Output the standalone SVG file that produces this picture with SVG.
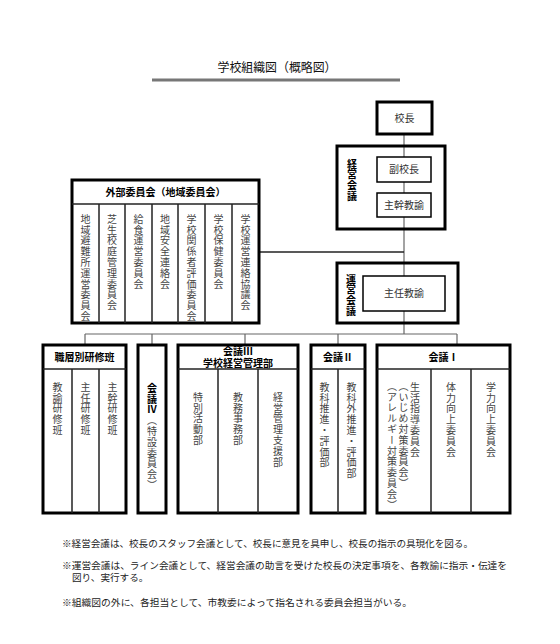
<svg xmlns="http://www.w3.org/2000/svg" width="560" height="644" viewBox="0 0 560 644">
<style>
text{font-family:"Noto Sans CJK JP","Noto Sans CJK SC",sans-serif}
.tight{font-family:"Liberation Sans","Noto Sans CJK JP",sans-serif}
.box{fill:#fff;stroke:#000;stroke-width:3}
.frame{fill:none;stroke:#000;stroke-width:3}
.inner{fill:#fff;stroke:#000;stroke-width:1.5}
.div{stroke:#222;stroke-width:1.5}
.conn{stroke:#666;stroke-width:1.2;fill:none}
.h{font-weight:bold;font-size:10px;fill:#000;text-anchor:middle}
.t{font-size:10px;fill:#333;text-anchor:middle}
.v{font-size:10px;fill:#444;writing-mode:vertical-rl;letter-spacing:0.8px}
.vb{font-size:10px;font-weight:bold;fill:#000;writing-mode:vertical-rl;letter-spacing:0.6px}
.note{font-size:9.6px;fill:#222}
</style>
<rect width="560" height="644" fill="#fff"/>
<g id="title">
<text x="277" y="72" font-size="12.5" fill="#111" text-anchor="middle" textLength="119" lengthAdjust="spacingAndGlyphs">学校組織図（概略図）</text>
<line x1="152" y1="80" x2="400" y2="80" stroke="#777" stroke-width="3"/>
</g>
<g id="connectors">
<line class="conn" x1="404" y1="134" x2="404" y2="157"/>
<line class="conn" x1="404" y1="182" x2="404" y2="193"/>
<line class="conn" x1="404" y1="217" x2="404" y2="276"/>
<line class="conn" x1="404" y1="311" x2="404" y2="334"/>
<line x1="259" y1="252" x2="404" y2="252" stroke="#222" stroke-width="1.5"/>
<line class="conn" x1="85" y1="334" x2="457" y2="334"/>
<line class="conn" x1="85" y1="334" x2="85" y2="345"/>
<line class="conn" x1="152" y1="334" x2="152" y2="345"/>
<line class="conn" x1="245" y1="334" x2="245" y2="345"/>
<line class="conn" x1="338" y1="334" x2="338" y2="345"/>
<line class="conn" x1="457" y1="334" x2="457" y2="345"/>
</g>
<g id="kocho">
<rect class="box" x="377" y="102" width="55" height="32"/>
<text class="t" x="404.5" y="122" font-size="12">校長</text>
</g>
<g id="keiei-kaigi">
<rect class="frame" x="337" y="146" width="108" height="83"/>
<text class="vb" x="352" y="159">経営会議</text>
</g>
<g id="fukukocho">
<rect class="inner" x="377" y="157" width="54" height="25"/>
<text class="t" x="404" y="173">副校長</text>
</g>
<g id="shukan">
<rect class="inner" x="377" y="193" width="54" height="24"/>
<text class="t" x="404" y="209">主幹教諭</text>
</g>
<g id="unei-kaigi">
<rect class="frame" x="337" y="263" width="121" height="60"/>
<text class="vb" x="351" y="274">運営会議</text>
</g>
<g id="shunin">
<rect class="inner" x="363" y="276" width="82" height="35"/>
<text class="t" x="404" y="297">主任教諭</text>
</g>
<g id="gaibu">
<rect class="box" x="72" y="180" width="187" height="143"/>
<line class="div" x1="72" y1="204" x2="259" y2="204"/>
<line class="div" x1="99" y1="204" x2="99" y2="323"/>
<line class="div" x1="125" y1="204" x2="125" y2="323"/>
<line class="div" x1="152" y1="204" x2="152" y2="323"/>
<line class="div" x1="178" y1="204" x2="178" y2="323"/>
<line class="div" x1="205" y1="204" x2="205" y2="323"/>
<line class="div" x1="232" y1="204" x2="232" y2="323"/>
<text class="h" x="165.5" y="196">外部委員会（地域委員会）</text>
<text class="v" x="85.5" y="214">地域避難所運営委員会</text>
<text class="v" x="112" y="214">芝生校庭管理委員会</text>
<text class="v" x="138.5" y="214">給食運営委員会</text>
<text class="v" x="165" y="214">地域安全連絡会</text>
<text class="v" x="191.5" y="214">学校関係者評価委員会</text>
<text class="v" x="218.5" y="214">学校保健委員会</text>
<text class="v" x="245.5" y="214">学校運営連絡協議会</text>
</g>
<g id="shokuso">
<rect class="box" x="43" y="345" width="83" height="168"/>
<line class="div" x1="43" y1="369" x2="126" y2="369"/>
<line class="div" x1="72" y1="369" x2="72" y2="513"/>
<line class="div" x1="99" y1="369" x2="99" y2="513"/>
<text class="h" x="84.5" y="361">職層別研修班</text>
<text class="v" x="57.5" y="382">教諭研修班</text>
<text class="v" x="85.5" y="382">主任研修班</text>
<text class="v" x="112.5" y="382">主幹研修班</text>
</g>
<g id="kaigi4">
<rect class="box" x="138" y="345" width="28" height="168"/>
<text class="v" x="152" y="383"><tspan font-weight="bold" fill="#000">会議Ⅳ</tspan>（特設委員会）</text>
</g>
<g id="kaigi3">
<rect class="box" x="178" y="345" width="120" height="168"/>
<line class="div" x1="178" y1="369" x2="298" y2="369"/>
<line class="div" x1="218" y1="369" x2="218" y2="513"/>
<line class="div" x1="258" y1="369" x2="258" y2="513"/>
<text class="h tight" font-size="9.5"><tspan x="238" y="355">会議Ⅲ</tspan><tspan x="238" y="366.5">学校経営管理部</tspan></text>
<text class="v" x="198" y="392">特別活動部</text>
<text class="v" x="238" y="392">教務事務部</text>
<text class="v" x="278" y="392">経営管理支援部</text>
</g>
<g id="kaigi2">
<rect class="box" x="311" y="345" width="54" height="168"/>
<line class="div" x1="311" y1="369" x2="365" y2="369"/>
<line class="div" x1="338" y1="369" x2="338" y2="513"/>
<text class="h" x="338" y="361">会議Ⅱ</text>
<text class="v" x="324.5" y="382">教科推進・評価部</text>
<text class="v" x="351.5" y="382">教科外推進・評価部</text>
</g>
<g id="kaigi1">
<rect class="box" x="377" y="345" width="133" height="168"/>
<line class="div" x1="377" y1="369" x2="510" y2="369"/>
<line class="div" x1="431" y1="369" x2="431" y2="513"/>
<line class="div" x1="471" y1="369" x2="471" y2="513"/>
<text class="h" x="443.5" y="361">会議Ⅰ</text>
<text class="v" x="415" y="382">生活指導委員会</text>
<text class="v" x="403.5" y="381">（いじめ対策委員会）</text>
<text class="v" x="392" y="381">（アレルギー対策委員会）</text>
<text class="v" x="451" y="382">体力向上委員会</text>
<text class="v" x="491" y="382">学力向上委員会</text>
</g>
<g id="notes">
<text class="note" x="62" y="547" textLength="411" lengthAdjust="spacingAndGlyphs">※経営会議は、校長のスタッフ会議として、校長に意見を具申し、校長の指示の具現化を図る。</text>
<text class="note tight"><tspan x="62" y="569" textLength="445" lengthAdjust="spacingAndGlyphs">※運営会議は、ライン会議として、経営会議の助言を受けた校長の決定事項を、各教諭に指示・伝達を</tspan><tspan x="72" y="581">図り、実行する。</tspan></text>
<text class="note" x="62" y="606" textLength="350" lengthAdjust="spacingAndGlyphs">※組織図の外に、各担当として、市教委によって指名される委員会担当がいる。</text>
</g>
</svg>
